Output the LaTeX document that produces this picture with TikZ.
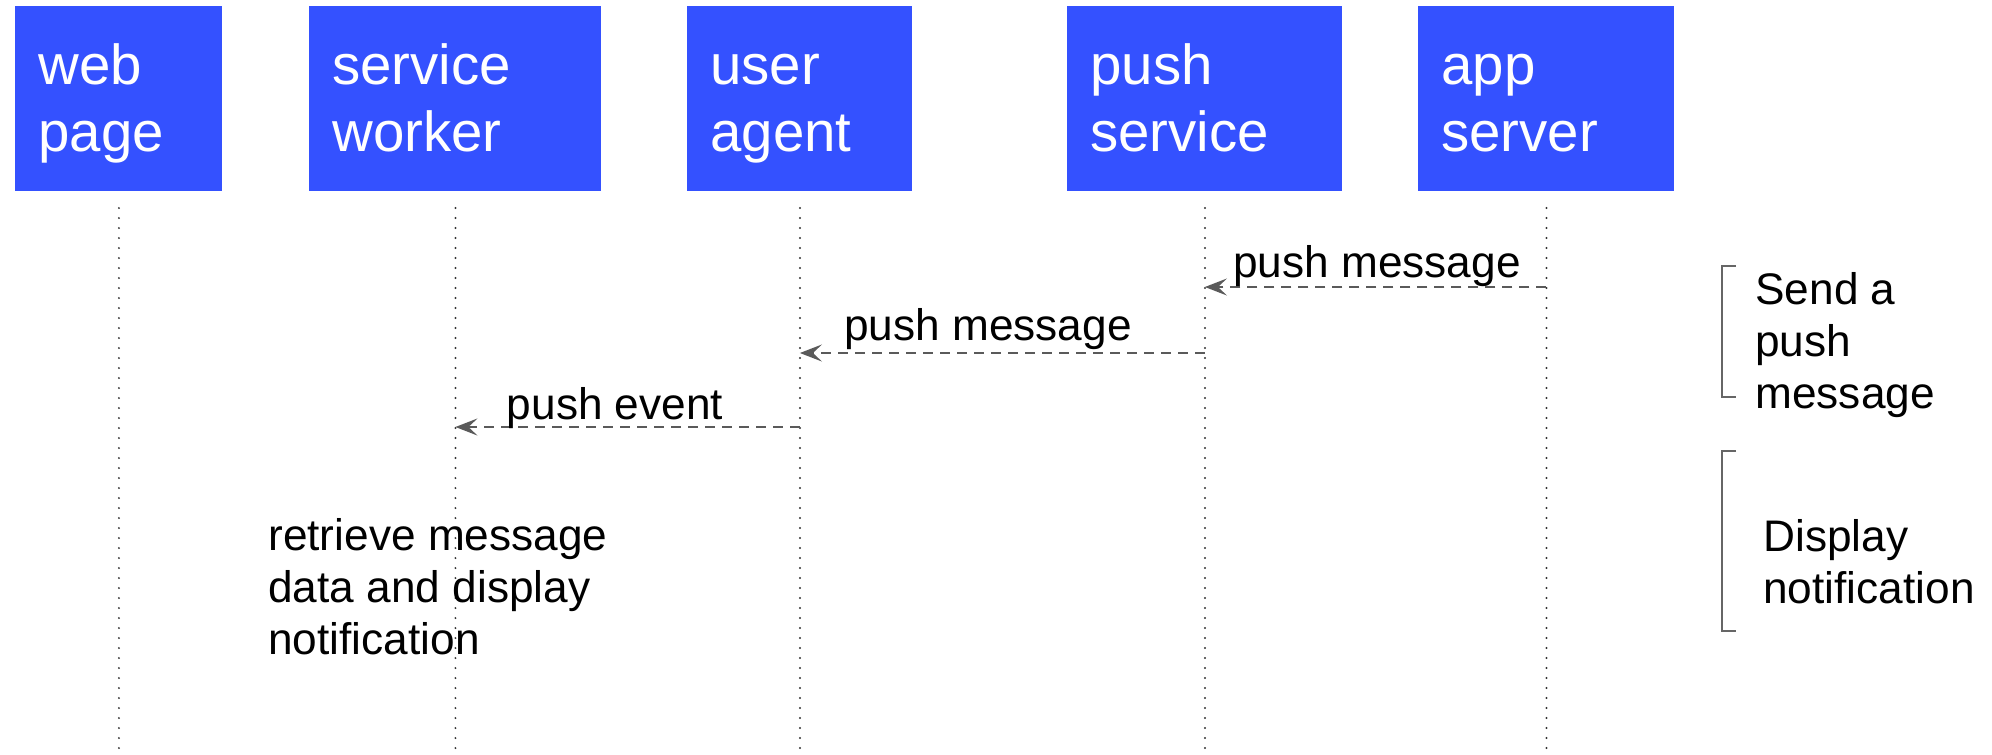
\documentclass[tikz,border=0pt]{standalone}
\usepackage{fontspec}
\setmainfont{Liberation Sans}
\usetikzlibrary{arrows.meta}
\definecolor{boxblue}{HTML}{3451FF}
\definecolor{arrgray}{HTML}{5A5A5A}
\definecolor{brkgray}{HTML}{666666}
\definecolor{dotgray}{HTML}{333333}
\begin{document}
\begin{tikzpicture}[x=0.5pt,y=-0.5pt,
  actor/.style={fill=boxblue, draw=none, text=white,
    font=\fontsize{28.2pt}{33.5pt}\selectfont, align=left, anchor=north west,
    inner xsep=11.5pt, inner ysep=0pt, text height=39pt, text depth=53.5pt},
  lifeline/.style={draw=dotgray, line width=1.1pt, line cap=round, dash pattern=on 0pt off 5pt},
  msg/.style={draw=arrgray, line width=1.1pt, dash pattern=on 5pt off 3.5pt,
    -{Stealth[length=11pt,width=8.5pt,inset=4.5pt]}},
  lbl/.style={font=\fontsize{22.1pt}{26pt}\selectfont, inner sep=0pt, align=left},
  brk/.style={draw=brkgray, line width=0.8pt}
]
\useasboundingbox (0,0) rectangle (1992,755);

% actors
\node[actor, text width=80.5pt]  (wp) at (15,6)   {web\\page};
\node[actor, text width=123pt]   (sw) at (309,6)  {service\\worker};
\node[actor, text width=89.5pt]  (ua) at (687,6)  {user\\agent};
\node[actor, text width=114.5pt] (ps) at (1067,6) {push\\service};
\node[actor, text width=105pt]   (as) at (1418,6) {app\\server};

% lifelines
\foreach \n in {wp,sw,ua,ps,as}{
  \coordinate (\n T) at (\n.south |- 0,208);
  \coordinate (\n B) at (\n.south |- 0,750);
  \draw[lifeline] (\n T) -- (\n B);
}

% messages
\coordinate (m1a) at (as.south |- 0,287);
\coordinate (m1b) at (ps.south |- 0,287);
\coordinate (m2a) at (ps.south |- 0,353);
\coordinate (m2b) at (ua.south |- 0,353);
\coordinate (m3a) at (ua.south |- 0,427);
\coordinate (m3b) at (sw.south |- 0,427);
\draw[msg] (m1a) -- (m1b);
\draw[msg] (m2a) -- (m2b);
\draw[msg] (m3a) -- (m3b);

\node[lbl, anchor=base] (l1) at (1377,277) {push message};
\node[lbl, anchor=base] (l2) at (988,340) {push message};
\node[lbl, anchor=base] (l3) at (615,419) {push event};

% multi-line nodes: base anchor sits on the last line
\node[lbl, anchor=base west] (rt) at (268,654) {retrieve message\\data and display\\notification};

% brackets
\draw[brk] (1736,266) -- (1722,266) -- (1722,397) -- (1736,397);
\draw[brk] (1736,451) -- (1722,451) -- (1722,631) -- (1736,631);

\node[lbl, anchor=base west] (s1) at (1755,408) {Send a\\push\\message};
\node[lbl, anchor=base west] (s2) at (1763,603) {Display\\notification};
\end{tikzpicture}
\end{document}
